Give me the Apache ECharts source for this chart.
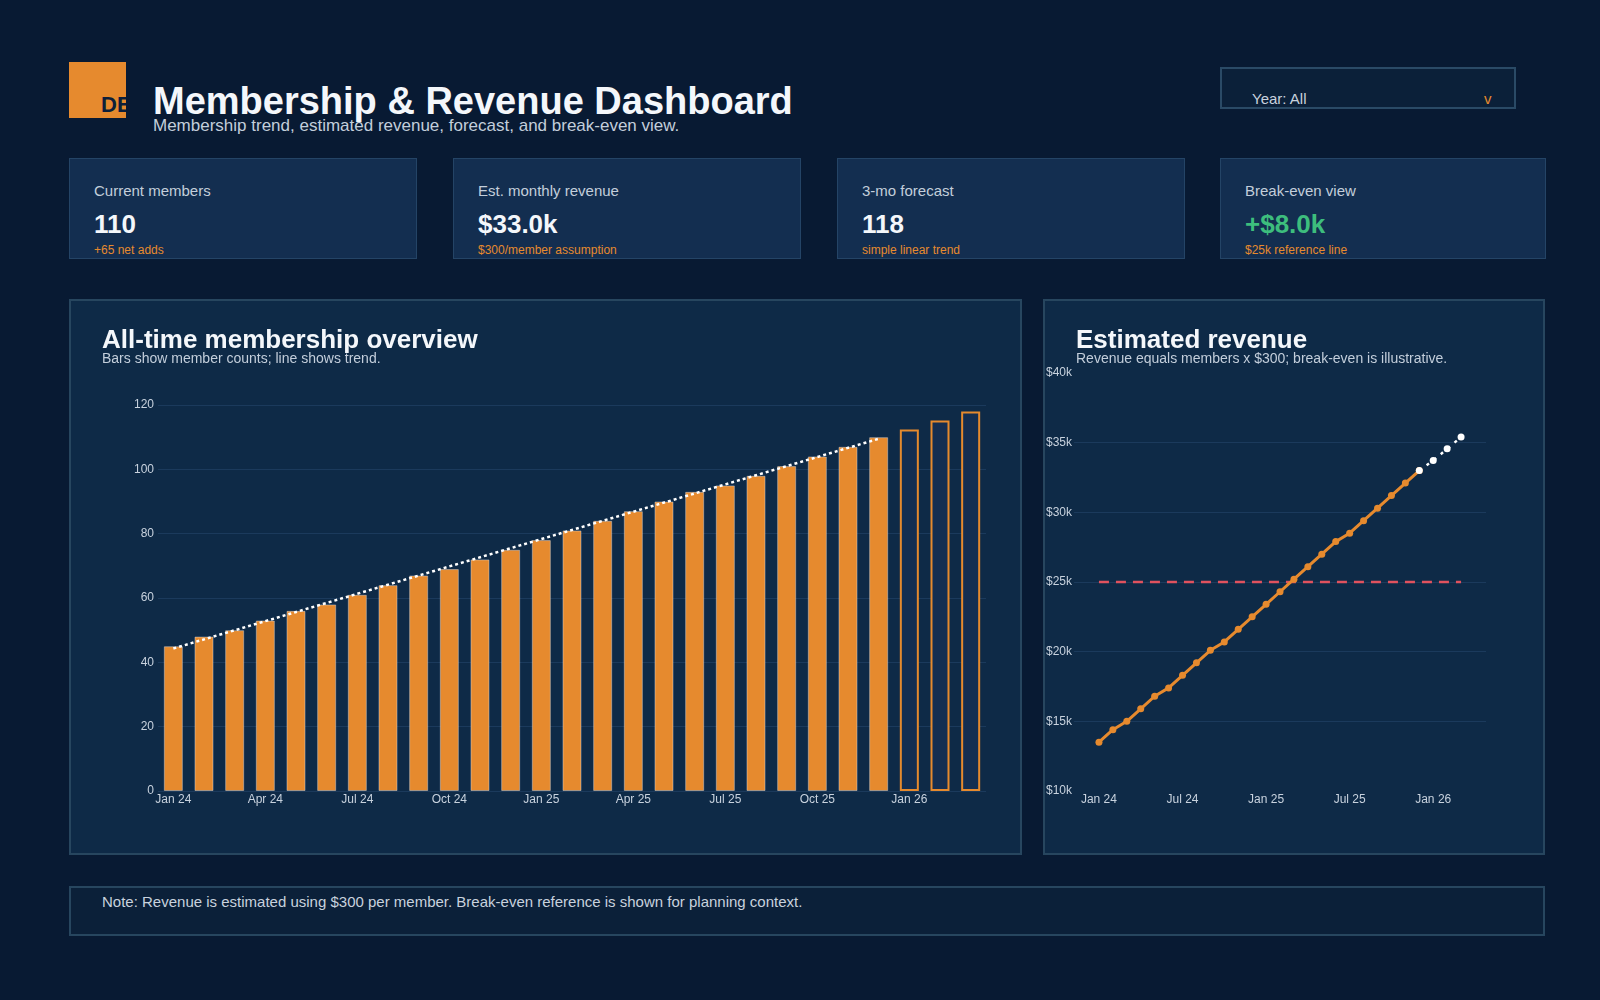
<!DOCTYPE html>
<html>
<head>
<meta charset="utf-8">
<title>Membership & Revenue Dashboard</title>
<script src="https://cdn.jsdelivr.net/npm/echarts@6/dist/echarts.min.js"></script>
<style>
  html, body { margin: 0; padding: 0; }
  body {
    width: 1600px; height: 1000px; position: relative; overflow: hidden;
    background: #081a33; font-family: "Liberation Sans", Arial, sans-serif; color: #f4f7fb;
  }
  .abs { position: absolute; white-space: nowrap; }
  .logo { left: 69px; top: 62px; width: 57px; height: 56px; background: #e68a2e; overflow: hidden; }
  .logo span { position: absolute; left: 32px; top: 32px; font-size: 22px; line-height: 22px; font-weight: bold; color: #0d1f3a; }
  .title { left: 153px; top: 82px; font-size: 38px; line-height: 38px; font-weight: bold; color: #f4f7fb; }
  .subtitle { left: 153px; top: 117px; font-size: 17px; line-height: 17px; color: #c3cedb; }
  .select { left: 1220px; top: 67px; width: 292px; height: 38px; background: #0b2039; border: 2px solid #2a4a66; }
  .select .lbl { position: absolute; left: 30px; top: 22px; font-size: 15px; line-height: 15px; color: #c8d2de; }
  .select .arrow { position: absolute; left: 262px; top: 22px; font-size: 15px; line-height: 15px; color: #e68a2e; }
  .card { top: 158px; height: 99px; background: #132e50; border: 1px solid #244466; }
  .card .k { position: absolute; left: 24px; top: 24px; font-size: 15px; line-height: 15px; color: #c3cedb; }
  .card .v { position: absolute; left: 24px; top: 52px; font-size: 26px; line-height: 26px; font-weight: bold; color: #f4f7fb; }
  .card .s { position: absolute; left: 24px; top: 85px; font-size: 12px; line-height: 12px; color: #e68a2e; }
  .panel { top: 299px; height: 552px; background: #0e2a47; border: 2px solid #27465f; }
  .ptitle { top: 326px; font-size: 26px; line-height: 26px; font-weight: bold; color: #f4f7fb; }
  .psub { top: 351px; font-size: 14px; line-height: 14px; color: #c3cedb; }
  .note { left: 69px; top: 886px; width: 1472px; height: 46px; background: #0b2039; border: 2px solid #27465f; }
  .note span { position: absolute; left: 31px; top: 6px; font-size: 15px; line-height: 15px; color: #c8d2de; }
  .chart { top: 299px; height: 556px; }
</style>
</head>
<body>
  <div class="abs logo"><span>DB</span></div>
  <div class="abs title">Membership &amp; Revenue Dashboard</div>
  <div class="abs subtitle">Membership trend, estimated revenue, forecast, and break-even view.</div>
  <div class="abs select"><span class="lbl">Year: All</span><span class="arrow">v</span></div>

  <div class="abs card" style="left: 69px; width: 346px">
    <div class="k">Current members</div><div class="v">110</div><div class="s">+65 net adds</div>
  </div>
  <div class="abs card" style="left: 453px; width: 346px">
    <div class="k">Est. monthly revenue</div><div class="v">$33.0k</div><div class="s">$300/member assumption</div>
  </div>
  <div class="abs card" style="left: 837px; width: 346px">
    <div class="k">3-mo forecast</div><div class="v">118</div><div class="s">simple linear trend</div>
  </div>
  <div class="abs card" style="left: 1220px; width: 324px">
    <div class="k">Break-even view</div><div class="v" style="color: #3dbd7d">+$8.0k</div><div class="s">$25k reference line</div>
  </div>

  <div class="abs panel" style="left: 69px; width: 949px"></div>
  <div class="abs panel" style="left: 1043px; width: 498px"></div>
  <div class="abs chart" id="bars" style="left: 69px; width: 953px"></div>
  <div class="abs chart" id="revenue" style="left: 1043px; width: 502px"></div>
  <div class="abs ptitle" style="left: 102px">All-time membership overview</div>
  <div class="abs psub" style="left: 102px">Bars show member counts; line shows trend.</div>
  <div class="abs ptitle" style="left: 1076px">Estimated revenue</div>
  <div class="abs psub" style="left: 1076px">Revenue equals members x $300; break-even is illustrative.</div>

  <div class="abs note"><span>Note: Revenue is estimated using $300 per member. Break-even reference is shown for planning context.</span></div>

<script>
// months Jan 24 .. Dec 25 are actuals, Jan 26 .. Mar 26 are the forecast
const months = ['Jan 24', 'Feb 24', 'Mar 24', 'Apr 24', 'May 24', 'Jun 24', 'Jul 24', 'Aug 24', 'Sep 24',
  'Oct 24', 'Nov 24', 'Dec 24', 'Jan 25', 'Feb 25', 'Mar 25', 'Apr 25', 'May 25', 'Jun 25', 'Jul 25',
  'Aug 25', 'Sep 25', 'Oct 25', 'Nov 25', 'Dec 25', 'Jan 26', 'Feb 26', 'Mar 26']
const members = [45, 48, 50, 53, 56, 58, 61, 64, 67, 69, 72, 75, 78, 81, 84, 87, 90, 93, 95, 98, 101, 104, 107, 110]
const forecast = [112.4, 115.2, 118.0]
const trendEnds = [44.3, 109.5]   // dotted trend line, first and last actual month
const revenueTicks = ['Jan 24', 'Jul 24', 'Jan 25', 'Jul 25', 'Jan 26']
const PER_MEMBER = 300
const BREAK_EVEN = 25000

const ORANGE = '#e68a2e'
const LABEL = '#c8d2de'
const GRID = '#1b3a5c'
const FONT = '"Liberation Sans", Arial, sans-serif'

// bar chart
const nA = members.length
const actualBars = months.map((m, i) => i < nA ? members[i] : null)
const forecastBars = months.map((m, i) => i < nA ? null : forecast[i - nA])
const trendLine = months.map((m, i) => i === 0 ? trendEnds[0] : (i === nA - 1 ? trendEnds[1] : null))

const barOption = {
  animation: false,
  textStyle: { fontFamily: FONT },
  grid: { left: 89, right: 36, top: 106, bottom: 64 },
  xAxis: {
    type: 'category',
    data: months,
    boundaryGap: true,
    axisLine: { show: false },
    axisTick: { show: false },
    axisLabel: { interval: 2, color: LABEL, fontSize: 12, margin: 3 }
  },
  yAxis: {
    type: 'value',
    min: 0, max: 120, interval: 20,
    axisLine: { show: false },
    axisLabel: { color: LABEL, fontSize: 12, margin: 4 },
    splitLine: { lineStyle: { color: GRID, width: 1 } }
  },
  series: [
    {
      type: 'bar', data: actualBars, barWidth: '62%', barGap: '-100%',
      itemStyle: { color: ORANGE, borderColor: 'rgba(215,220,228,0.45)', borderWidth: 1 }
    },
    {
      type: 'bar', data: forecastBars, barWidth: '62%', barGap: '-100%',
      itemStyle: { color: '#142e51', borderColor: ORANGE, borderWidth: 2 }
    },
    {
      type: 'line', data: trendLine, connectNulls: true, symbol: 'none', z: 5,
      lineStyle: { color: '#ffffff', width: 2.5, type: [3, 3] }
    }
  ]
}

// revenue chart
const revenue = members.map((m, i) => [i, m * PER_MEMBER])
const revForecast = [[nA - 1, members[nA - 1] * PER_MEMBER]].concat(forecast.map((m, j) => [nA + j, m * PER_MEMBER]))
const breakEven = [[0, BREAK_EVEN], [months.length - 1, BREAK_EVEN]]

const revOption = {
  animation: false,
  textStyle: { fontFamily: FONT },
  grid: { left: 30, right: 59, top: 74, bottom: 64 },
  xAxis: {
    type: 'value',
    min: -1.79, max: 27.79,
    axisLine: { show: false },
    axisTick: { show: false },
    splitLine: { show: false },
    axisLabel: {
      customValues: revenueTicks.map(t => months.indexOf(t)),
      formatter: v => months[v],
      color: LABEL, fontSize: 12, margin: 3
    }
  },
  yAxis: {
    type: 'value',
    min: 10000, max: 40000, interval: 5000,
    axisLine: { show: false },
    axisTick: { show: false },
    axisLabel: { color: LABEL, fontSize: 12, margin: 2, formatter: v => '$' + v / 1000 + 'k' },
    splitLine: { showMinLine: false, showMaxLine: false, lineStyle: { color: GRID, width: 1 } }
  },
  series: [
    {
      type: 'line', data: breakEven, symbol: 'none', z: 1,
      lineStyle: { color: '#e0525e', width: 2.5, type: [10, 7] }
    },
    {
      type: 'line', data: revenue, symbol: 'circle', symbolSize: 7, z: 3,
      itemStyle: { color: ORANGE },
      lineStyle: { color: ORANGE, width: 3 }
    },
    {
      type: 'line', data: revForecast, symbol: 'circle', symbolSize: 7, z: 4,
      itemStyle: { color: '#ffffff' },
      lineStyle: { color: '#ffffff', width: 2.5, type: [3, 6] }
    }
  ]
}

echarts.init(document.getElementById('bars')).setOption(barOption)
echarts.init(document.getElementById('revenue')).setOption(revOption)
</script>
</body>
</html>
